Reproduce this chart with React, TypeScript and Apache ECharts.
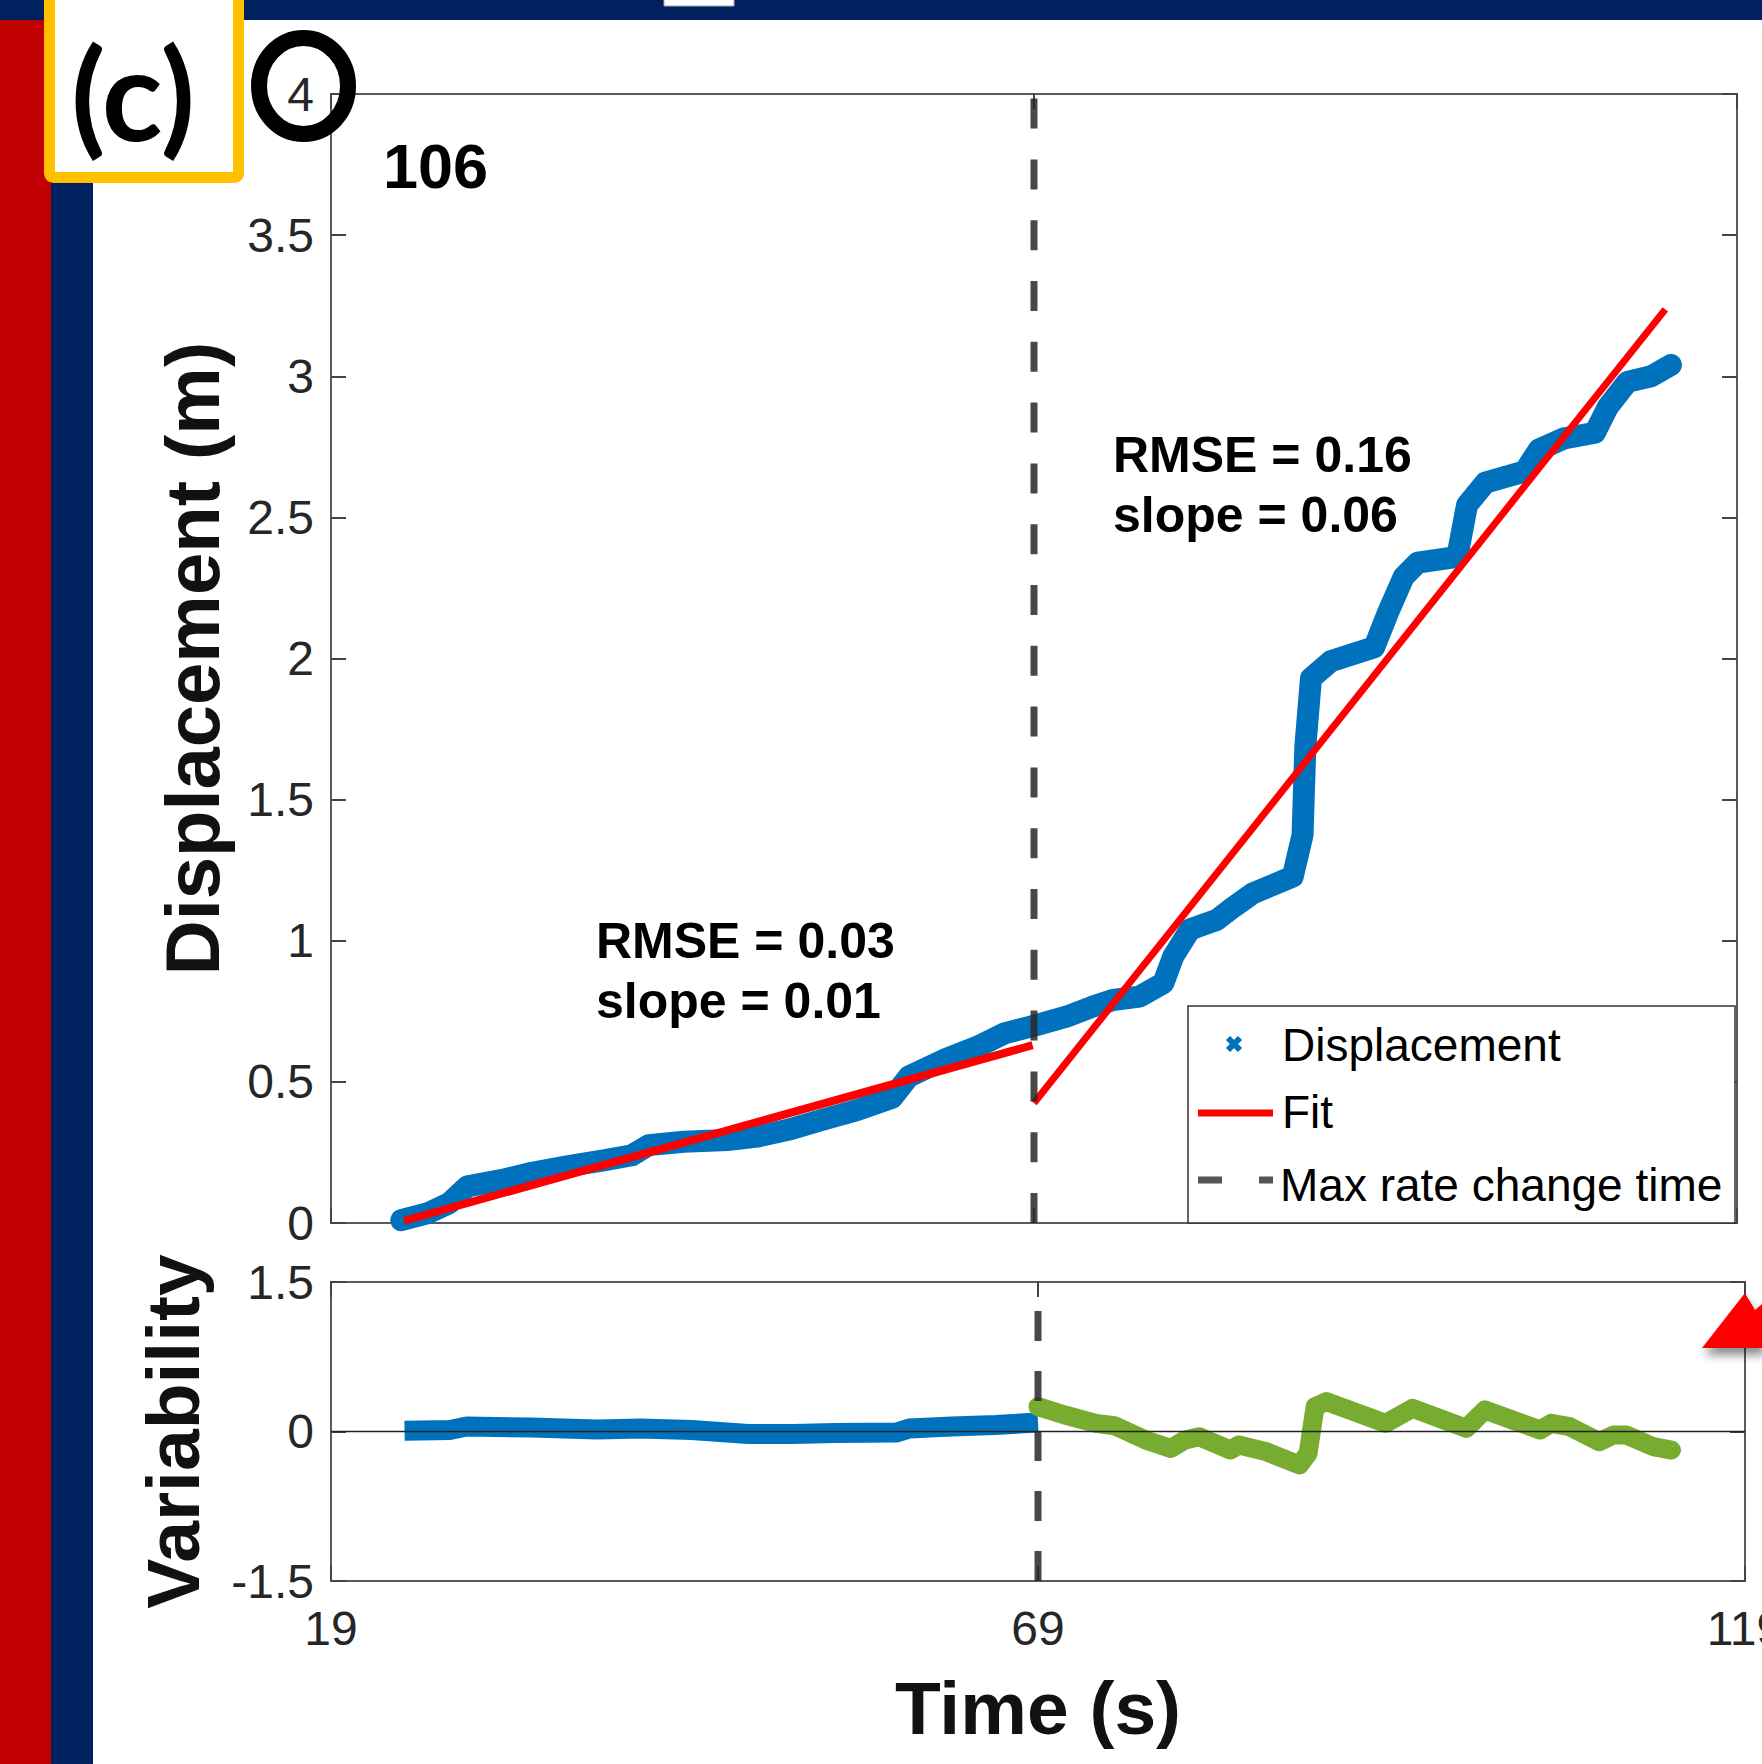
import React, { useEffect, useRef } from "react";
import * as echarts from "echarts";

// ---------- data ----------
const xTickValues = [19, 69, 119];
const changeTime = 69;

const dispTime = [24.0, 25.9, 27.4, 28.7, 31.1, 33.3, 35.7, 38.5, 40.4, 41.6, 44.1, 47.2, 49.3, 51.5, 53.9, 56.4, 58.9, 60.1, 62.6, 65.0, 66.9, 69.1, 71.3, 73.2, 74.6, 76.5, 78.2, 78.9, 80.1, 82.0, 83.2, 84.6, 86.3, 87.4, 88.1, 88.3, 88.7, 90.1, 93.2, 94.2, 95.3, 96.3, 99.1, 99.8, 101.1, 103.9, 104.9, 106.7, 108.9, 109.8, 111.2, 112.9, 114.3];
const dispValue = [0.01, 0.035, 0.07, 0.13, 0.152, 0.178, 0.2, 0.223, 0.24, 0.276, 0.288, 0.294, 0.306, 0.33, 0.365, 0.4, 0.443, 0.519, 0.578, 0.625, 0.672, 0.7, 0.731, 0.767, 0.79, 0.802, 0.85, 0.944, 1.04, 1.074, 1.12, 1.169, 1.204, 1.227, 1.375, 1.69, 1.93, 1.99, 2.04, 2.165, 2.29, 2.34, 2.36, 2.544, 2.623, 2.663, 2.74, 2.78, 2.8, 2.89, 2.98, 3.0, 3.04];

const fitEarlyTime = [24.2, 68.9];
const fitEarlyValue = [0.008, 0.63];
const fitLateTime = [69, 113.9];
const fitLateValue = [0.425, 3.237];

const varEarlyTime = [24.2, 27.4, 28.6, 33.2, 37.8, 40.9, 44.5, 48.5, 51.6, 54.7, 59.0, 59.9, 62.9, 66.0, 69.0];
const varEarlyValue = [0.008, 0.015, 0.05, 0.04, 0.02, 0.03, 0.015, -0.025, -0.025, -0.015, -0.01, 0.03, 0.05, 0.065, 0.09];
const varLateTime = [69.0, 70.9, 73.1, 74.4, 76.6, 78.4, 79.4, 80.4, 82.6, 83.2, 85.1, 87.5, 88.1, 88.6, 89.4, 93.6, 95.5, 99.3, 100.6, 104.5, 105.3, 106.6, 108.7, 109.7, 110.6, 112.5, 113.8];
const varLateValue = [0.249, 0.166, 0.082, 0.058, -0.085, -0.17, -0.085, -0.052, -0.186, -0.135, -0.2, -0.336, -0.22, 0.249, 0.3, 0.082, 0.233, 0.032, 0.216, 0.015, 0.082, 0.048, -0.102, -0.035, -0.035, -0.152, -0.186];

const legendLabels = ["Displacement", "Fit", "Max rate change time"];
const fitNotes = [
  ["RMSE = 0.03", "slope = 0.01"],
  ["RMSE = 0.16", "slope = 0.06"],
];

// ---------- styling ----------
const FONT = '"Liberation Sans", Arial, Helvetica, sans-serif';
const BLUE = "#0072BD";
const GREEN = "#77AC30";
const RED = "#FF0000";
const AXIS = "#5a5a5a";
const LABEL = "#262626";
const DASH = "rgba(40,40,40,0.85)";

const pairs = (xs: number[], ys: number[]) => xs.map((x, i) => [x, ys[i]]);

const tickStyle = { show: true, inside: true, length: 15, lineStyle: { color: "#444", width: 2 } };
const lineStyleAxis = { show: true, onZero: false, lineStyle: { color: AXIS, width: 2 } };

export default function App() {
  const ref = useRef<HTMLDivElement>(null);

  useEffect(() => {
    if (!ref.current) return;
    const chart = echarts.init(ref.current, undefined, { renderer: "svg" });

    const xBase = (gridIndex: number, position: string, labels: boolean) => ({
      gridIndex,
      type: "value",
      min: xTickValues[0],
      max: xTickValues[xTickValues.length - 1],
      interval: xTickValues[1] - xTickValues[0],
      position,
      axisLine: lineStyleAxis,
      axisTick: tickStyle,
      splitLine: { show: false },
      axisLabel: labels
        ? { show: true, fontSize: 48, fontFamily: FONT, color: LABEL, margin: 23, lineHeight: 48 }
        : { show: false },
    });

    const option: any = {
      animation: false,
      backgroundColor: "#ffffff",
      grid: [
        { left: 331, top: 94, width: 1406, height: 1129, show: true, borderColor: AXIS, borderWidth: 2, backgroundColor: "#fff", containLabel: false, outerBoundsMode: "none" },
        { left: 331, top: 1282, width: 1414, height: 299, show: true, borderColor: AXIS, borderWidth: 2, backgroundColor: "#fff", containLabel: false, outerBoundsMode: "none" },
      ],
      xAxis: [
        xBase(0, "bottom", false),
        xBase(0, "top", false),
        {
          ...xBase(1, "bottom", true),
          name: "Time (s)",
          nameLocation: "middle",
          nameGap: 89,
          nameTextStyle: { fontSize: 75, fontWeight: "bold", fontFamily: FONT, color: "#111", lineHeight: 75 },
        },
        xBase(1, "top", false),
      ],
      yAxis: [
        {
          gridIndex: 0, type: "value", min: 0, max: 4, interval: 0.5, position: "left",
          axisLine: lineStyleAxis, axisTick: tickStyle, splitLine: { show: false },
          axisLabel: { fontSize: 48, fontFamily: FONT, color: LABEL, margin: 17 },
          name: "Displacement (m)", nameLocation: "middle", nameRotate: 90, nameGap: 101,
          nameTextStyle: { fontSize: 76, fontWeight: "bold", fontFamily: FONT, color: "#111", lineHeight: 76 },
        },
        {
          gridIndex: 0, type: "value", min: 0, max: 4, interval: 0.5, position: "right",
          axisLine: lineStyleAxis, axisTick: tickStyle, splitLine: { show: false }, axisLabel: { show: false },
        },
        {
          gridIndex: 1, type: "value", min: -1.5, max: 1.5, interval: 1.5, position: "left",
          axisLine: lineStyleAxis, axisTick: tickStyle, splitLine: { show: false },
          axisLabel: { fontSize: 48, fontFamily: FONT, color: LABEL, margin: 17 },
          name: "Variability", nameLocation: "middle", nameRotate: 90, nameGap: 121,
          nameTextStyle: { fontSize: 75, fontWeight: "bold", fontFamily: FONT, color: "#111", lineHeight: 75 },
        },
        {
          gridIndex: 1, type: "value", min: -1.5, max: 1.5, interval: 1.5, position: "right",
          axisLine: lineStyleAxis, axisTick: tickStyle, splitLine: { show: false }, axisLabel: { show: false },
        },
      ],
      series: [
        {
          name: legendLabels[0], type: "line", xAxisIndex: 0, yAxisIndex: 0, showSymbol: false, z: 2,
          data: pairs(dispTime, dispValue),
          lineStyle: { color: BLUE, width: 22, cap: "round", join: "round" },
        },
        {
          name: legendLabels[1], type: "line", xAxisIndex: 0, yAxisIndex: 0, showSymbol: false, z: 3,
          data: pairs(fitEarlyTime, fitEarlyValue),
          lineStyle: { color: RED, width: 8 },
        },
        {
          name: legendLabels[1] + " 2", type: "line", xAxisIndex: 0, yAxisIndex: 0, showSymbol: false, z: 3,
          data: pairs(fitLateTime, fitLateValue),
          lineStyle: { color: RED, width: 7 },
        },
        {
          name: legendLabels[2], type: "line", xAxisIndex: 0, yAxisIndex: 0, showSymbol: false, z: 4,
          data: [[changeTime, 0], [changeTime, 4]],
          lineStyle: { color: DASH, width: 7, type: [30, 30.8] },
        },
        {
          name: "Variability before", type: "line", xAxisIndex: 2, yAxisIndex: 2, showSymbol: false, z: 2,
          data: pairs(varEarlyTime, varEarlyValue),
          lineStyle: { color: BLUE, width: 20, cap: "butt", join: "round" },
        },
        {
          name: "Variability after", type: "line", xAxisIndex: 2, yAxisIndex: 2, showSymbol: false, z: 2,
          data: pairs(varLateTime, varLateValue),
          lineStyle: { color: GREEN, width: 19, cap: "round", join: "round" },
        },
        {
          name: "Zero", type: "line", xAxisIndex: 2, yAxisIndex: 2, showSymbol: false, z: 5,
          data: [[xTickValues[0], 0], [xTickValues[2], 0]],
          lineStyle: { color: "#222", width: 1.5 },
        },
        {
          name: "Change time lower", type: "line", xAxisIndex: 2, yAxisIndex: 2, showSymbol: false, z: 4,
          data: [[changeTime, -1.5], [changeTime, 1.5]],
          lineStyle: { color: DASH, width: 7, type: [30, 30] },
        },
      ],
      graphic: {
        elements: [
          // decorative frame of the slide
          { type: "rect", z: 100, shape: { x: 0, y: 0, width: 51, height: 1764 }, style: { fill: "#C00000" } },
          { type: "rect", z: 100, shape: { x: 51, y: 0, width: 42, height: 1764 }, style: { fill: "#002060" } },
          { type: "rect", z: 100, shape: { x: 0, y: 0, width: 1762, height: 20 }, style: { fill: "#002060" } },
          { type: "rect", z: 101, shape: { x: 664, y: -1, width: 70, height: 7 }, style: { fill: "#fff", stroke: "#aaa", lineWidth: 1 } },
          { type: "rect", z: 102, shape: { x: 49.5, y: -6, width: 189, height: 183.5, r: 4 }, style: { fill: "#fff", stroke: "#FFC000", lineWidth: 11 } },
          {
            type: "text", z: 103, x: 133, y: 92,
            style: { text: "(c)", fontSize: 126, fontWeight: "bold", fontFamily: "Lato, 'Open Sans', sans-serif", fill: "#000", align: "center", verticalAlign: "middle" },
          },
          { type: "ellipse", z: 103, shape: { cx: 303.5, cy: 86, rx: 44.5, ry: 48 }, style: { fill: "transparent", stroke: "#000", lineWidth: 16 } },
          {
            type: "polygon", z: 103,
            shape: { points: [[1745, 1293], [1755, 1310], [1762, 1304], [1762, 1348], [1702, 1348]] },
            style: { fill: "#FF0000", shadowBlur: 10, shadowColor: "rgba(0,0,0,0.45)", shadowOffsetX: 2, shadowOffsetY: 7 },
          },
          // annotations
          {
            type: "text", z: 103, x: 383, y: 166,
            style: { text: "106", fontSize: 63, fontWeight: "bold", fontFamily: FONT, fill: "#000", align: "left", verticalAlign: "middle" },
          },
          {
            type: "text", z: 103, x: 596, y: 941,
            style: { text: fitNotes[0][0], fontSize: 50, fontWeight: "bold", fontFamily: FONT, fill: "#000", align: "left", verticalAlign: "middle" },
          },
          {
            type: "text", z: 103, x: 596, y: 1001,
            style: { text: fitNotes[0][1], fontSize: 50, fontWeight: "bold", fontFamily: FONT, fill: "#000", align: "left", verticalAlign: "middle" },
          },
          {
            type: "text", z: 103, x: 1113, y: 455,
            style: { text: fitNotes[1][0], fontSize: 50, fontWeight: "bold", fontFamily: FONT, fill: "#000", align: "left", verticalAlign: "middle" },
          },
          {
            type: "text", z: 103, x: 1113, y: 515,
            style: { text: fitNotes[1][1], fontSize: 50, fontWeight: "bold", fontFamily: FONT, fill: "#000", align: "left", verticalAlign: "middle" },
          },
          // legend
          { type: "rect", z: 104, shape: { x: 1188, y: 1006, width: 547, height: 217 }, style: { fill: "#fff", stroke: "#333", lineWidth: 1.5 } },
          { type: "line", z: 105, shape: { x1: 1228, y1: 1038, x2: 1240, y2: 1050 }, style: { stroke: BLUE, lineWidth: 6 } },
          { type: "line", z: 105, shape: { x1: 1228, y1: 1050, x2: 1240, y2: 1038 }, style: { stroke: BLUE, lineWidth: 6 } },
          { type: "line", z: 105, shape: { x1: 1198, y1: 1113, x2: 1273, y2: 1113 }, style: { stroke: RED, lineWidth: 7 } },
          { type: "line", z: 105, shape: { x1: 1198, y1: 1180, x2: 1273, y2: 1180 }, style: { stroke: "#555", lineWidth: 7, lineDash: [24, 37] } },
          {
            type: "text", z: 105, x: 1282, y: 1045,
            style: { text: legendLabels[0], fontSize: 46, fontFamily: FONT, fill: "#000", align: "left", verticalAlign: "middle" },
          },
          {
            type: "text", z: 105, x: 1282, y: 1112,
            style: { text: legendLabels[1], fontSize: 46, fontFamily: FONT, fill: "#000", align: "left", verticalAlign: "middle" },
          },
          {
            type: "text", z: 105, x: 1280, y: 1185,
            style: { text: legendLabels[2], fontSize: 46, fontFamily: FONT, fill: "#000", align: "left", verticalAlign: "middle" },
          },
        ],
      },
    };

    chart.setOption(option);
    return () => chart.dispose();
  }, []);

  return (
    <div
      ref={ref}
      style={{ position: "absolute", left: 0, top: 0, width: 1762, height: 1764, overflow: "hidden", background: "#fff" }}
    />
  );
}
